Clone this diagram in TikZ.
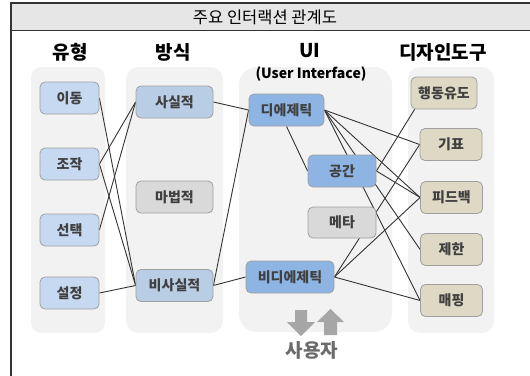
\documentclass[tikz,border=0pt]{standalone}
\usepackage{fontspec}
\setmainfont{Noto Sans CJK KR}
\pgfdeclarelayer{bg}
\pgfdeclarelayer{links}
\pgfsetlayers{bg,links,main}
\definecolor{framec}{HTML}{333333}
\definecolor{titlefill}{HTML}{E6E6E6}
\definecolor{colfill}{HTML}{F2F2F2}
\definecolor{lightblue}{HTML}{C6D9F1}
\definecolor{midblue}{HTML}{B9CDE5}
\definecolor{deepblue}{HTML}{8DB4E2}
\definecolor{greyfill}{HTML}{D9D9D9}
\definecolor{tanfill}{HTML}{DDD9C4}
\definecolor{boxline}{HTML}{A0A0A0}
\definecolor{txt}{HTML}{404040}
\definecolor{arrowgrey}{HTML}{A6A6A6}
\definecolor{usertxt}{HTML}{6B6B6B}
\begin{document}
\begin{tikzpicture}[x=1pt,y=-1pt,
  item/.style={draw=boxline,line width=0.8pt,rounded corners=5pt,inner sep=0pt,
    minimum height=32pt,text=txt,font=\fontsize{14}{16}\selectfont\bfseries},
  typebox/.style={item,fill=lightblue,minimum width=59pt},
  modebox/.style={item,fill=midblue,minimum width=77pt},
  uibox/.style={item,fill=deepblue},
  greybox/.style={item,fill=greyfill},
  toolbox/.style={item,fill=tanfill,minimum width=62pt},
  colbg/.style={fill=colfill,draw=none},
  head/.style={text=black,font=\fontsize{19}{21}\selectfont\bfseries,inner sep=0pt},
  link/.style={draw=framec,line width=0.9pt},
  bigarrow/.style={fill=arrowgrey,draw=none}]
\useasboundingbox (0,0) rectangle (530,375);

% outer frame and title bar
\fill[titlefill] (11,3) rectangle (531,30);
\draw[framec,line width=1.2pt] (531,3) -- (11,3) -- (11,376);
\draw[framec,line width=1pt] (11,30) -- (531,30);
\node[inner sep=0pt,font=\fontsize{16.5}{18}\selectfont] (title) at (265,17) {주요 인터랙션 관계도};

% column panels
\begin{pgfonlayer}{bg}
\fill[colbg,rounded corners=10pt] (31,67) rectangle (105,333);
\fill[colbg,rounded corners=12pt] (126,67) rectangle (223,333);
\fill[colbg,rounded corners=18pt] (239,67) rectangle (392,332);
\fill[colbg,rounded corners=12pt] (408,67) rectangle (494,333);
\end{pgfonlayer}

% column headings
\node[head] (h1) at (70,52) {유형};
\node[head] (h2) at (173,52) {방식};
\node[head] (h3) at (310,51) {UI};
\node[inner sep=0pt,font=\fontsize{14}{16}\selectfont\bfseries] (h3b) at (311,74) {(User Interface)};
\node[head] (h4) at (443,52) {디자인도구};

% interaction types
\node[typebox] (move)   at (69.5,98)  {이동};
\node[typebox] (manip)  at (69.5,164) {조작};
\node[typebox] (select) at (69.5,230) {선택};
\node[typebox] (setup)  at (69.5,293) {설정};

% modes
\node[modebox] (real)    at (174.5,102)   {사실적};
\node[greybox,minimum width=77pt] (magic) at (174.5,197) {마법적};
\node[modebox] (unreal)  at (174.5,285.5) {비사실적};

% UI kinds
\node[uibox,minimum width=75pt] (dieg)    at (286.5,110) {디에제틱};
\node[uibox,minimum width=68pt] (spatial) at (342,171)   {공간};
\node[greybox,minimum width=68pt,minimum height=31pt] (meta) at (342,222.5) {메타};
\node[uibox,minimum width=88pt] (nondieg) at (290,277)   {비디에제틱};

% design tools
\node[toolbox,minimum width=66pt] (afford) at (444,93) {행동유도};
\node[toolbox] (sign)     at (451,144.5) {기표};
\node[toolbox] (feedback) at (451.5,197.5) {피드백};
\node[toolbox] (limit)    at (451.5,249.5) {제한};
\node[toolbox] (mapping)  at (451.5,300.5) {매핑};

% user arrows and label
\fill[bigarrow] (295,310) -- (307,310) -- (307,322) -- (315,322) -- (301,336)
  -- (287,322) -- (295,322) -- cycle;
\fill[bigarrow] (324,335) -- (337,335) -- (337,322) -- (344,322) -- (330.5,309)
  -- (317,322) -- (324,322) -- cycle;
\node[inner sep=0pt,text=usertxt,font=\fontsize{19}{21}\selectfont\bfseries] (user) at (312,350) {사용자};

% connectors
\begin{pgfonlayer}{links}
\draw[link] (move.east) -- (unreal.west);
\draw[link] (manip.east) -- (real.west);
\draw[link] (manip.east) -- (unreal.west);
\draw[link] (select.east) -- (real.west);
\draw[link] (setup.east) -- (unreal.west);

\draw[link] (real.east) -- (dieg.west);
\draw[link] (unreal.east) -- (dieg.west);
\draw[link] (unreal.east) -- (nondieg.west);

\draw[link] (dieg.south) -- (spatial.west);
\draw[link] (dieg.east) -- (sign.west);
\draw[link] (dieg.east) -- (feedback.west);
\draw[link] (dieg.east) -- (limit.west);
\draw[link] (dieg.east) -- (mapping.west);

\draw[link] (spatial.east) -- ([xshift=4pt]afford.south west);
\draw[link] (spatial.east) -- (feedback.west);

\draw[link] (nondieg.east) -- (sign.west);
\draw[link] (nondieg.east) -- (feedback.west);
\draw[link] (nondieg.east) -- (mapping.west);
\end{pgfonlayer}
\end{tikzpicture}
\end{document}
